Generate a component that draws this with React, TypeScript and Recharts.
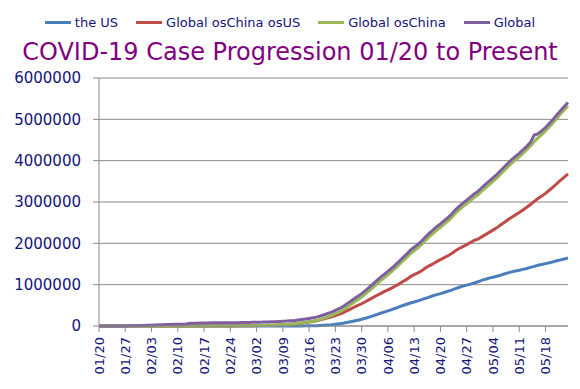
import React from 'react';
import { LineChart, Line, XAxis, YAxis, CartesianGrid, Legend } from 'recharts';

const dates = [
  '01/20', '01/21', '01/22', '01/23', '01/24', '01/25', '01/26', '01/27', '01/28', '01/29', '01/30', '01/31',
  '02/01', '02/02', '02/03', '02/04', '02/05', '02/06', '02/07', '02/08', '02/09', '02/10', '02/11', '02/12',
  '02/13', '02/14', '02/15', '02/16', '02/17', '02/18', '02/19', '02/20', '02/21', '02/22', '02/23', '02/24',
  '02/25', '02/26', '02/27', '02/28', '02/29',
  '03/01', '03/02', '03/03', '03/04', '03/05', '03/06', '03/07', '03/08', '03/09', '03/10', '03/11', '03/12',
  '03/13', '03/14', '03/15', '03/16', '03/17', '03/18', '03/19', '03/20', '03/21', '03/22', '03/23', '03/24',
  '03/25', '03/26', '03/27', '03/28', '03/29', '03/30', '03/31',
  '04/01', '04/02', '04/03', '04/04', '04/05', '04/06', '04/07', '04/08', '04/09', '04/10', '04/11', '04/12',
  '04/13', '04/14', '04/15', '04/16', '04/17', '04/18', '04/19', '04/20', '04/21', '04/22', '04/23', '04/24',
  '04/25', '04/26', '04/27', '04/28', '04/29', '04/30',
  '05/01', '05/02', '05/03', '05/04', '05/05', '05/06', '05/07', '05/08', '05/09', '05/10', '05/11', '05/12',
  '05/13', '05/14', '05/15', '05/16', '05/17', '05/18', '05/19', '05/20', '05/21', '05/22', '05/23', '05/24',
];

const usCases = [
  0, 1, 1, 1, 2, 2, 5, 5, 5, 5, 5, 7,
  8, 8, 11, 11, 12, 12, 12, 12, 12, 12, 13, 13, 15, 15, 15, 15, 15, 15, 15, 15,
  35, 35, 35, 53, 53, 59, 60, 62, 70, 76,
  101, 122, 153, 221, 278, 417, 537, 605, 959, 1281,
  1663, 2179, 2726, 3499, 4632, 6421, 7786, 13680, 19101, 25493,
  33276, 43847, 53740, 65778, 83836, 101657, 121465, 140909, 161831, 188172,
  213242, 243622, 275367, 308650, 336802, 366317, 397121, 428654, 462780, 496535,
  526396, 555313, 580619, 607670, 636350, 667592, 699706, 732197, 759086, 784326,
  811865, 840351, 869170, 905358, 938154, 965785, 988197, 1012582, 1039909, 1069424,
  1103461, 1132539, 1158040, 1180375, 1204351, 1229331, 1257023, 1283929, 1309550, 1329260,
  1347881, 1369376, 1390406, 1417774, 1442824, 1467820, 1486757, 1508308, 1528568, 1551853,
  1577147, 1600937, 1622612, 1643246,
];

const globalExChinaExUS = [
  4, 4, 6, 10, 19, 26, 38, 45, 64, 74, 88, 118,
  139, 149, 154, 174, 183, 195, 269, 294, 309, 396, 403, 449, 458, 512, 602, 696, 809, 910, 1005, 1105,
  1234, 1536, 1901, 2267, 2599, 3163, 4086, 5122, 6585, 8361,
  10069, 12457, 14581, 17128, 20833, 24660, 28461, 32125, 36774, 43673,
  45757, 62081, 72398, 82952, 95909, 109623, 125933, 147734, 171857, 197709,
  222242, 252890, 282714, 320214, 363973, 409737, 457242, 497086, 538336, 587036,
  637002, 687412, 738039, 784867, 830350, 872499, 916637, 968739, 1019615, 1078050,
  1126240, 1196274, 1241006, 1285215, 1336348, 1401442, 1456724, 1501774, 1558487, 1604116,
  1653405, 1699855, 1755831, 1821936, 1874683, 1921778, 1969649, 2019876, 2070033, 2103466,
  2156357, 2211086, 2264725, 2318714, 2374370, 2442042, 2504725, 2570145, 2630449, 2688428,
  2745605, 2808347, 2872583, 2940351, 3015479, 3082194, 3142800, 3209572, 3284861, 3360556,
  3441196, 3525796, 3603664, 3680265,
];

const globalExChina = [
  4, 5, 7, 11, 21, 28, 43, 50, 69, 79, 93, 125,
  147, 157, 165, 185, 195, 207, 281, 306, 321, 408, 416, 462, 473, 527, 617, 711, 824, 925, 1020, 1120,
  1269, 1571, 1936, 2320, 2652, 3222, 4146, 5184, 6655, 8437,
  10170, 12579, 14734, 17349, 21111, 25077, 28998, 32730, 37733, 44954,
  47420, 64260, 75124, 86451, 100541, 116044, 133719, 161414, 190958, 223202,
  255518, 296737, 336454, 385992, 447809, 511394, 578707, 637995, 700167, 775208,
  850244, 931034, 1013406, 1093517, 1167152, 1238816, 1313758, 1397393, 1482395, 1574585,
  1652636, 1751587, 1821625, 1892885, 1972698, 2069034, 2156430, 2233971, 2317573, 2388442,
  2465270, 2540206, 2625001, 2727294, 2812837, 2887563, 2957846, 3032458, 3109942, 3172890,
  3259818, 3343625, 3422765, 3499089, 3578721, 3671373, 3761748, 3854074, 3939999, 4017688,
  4093486, 4177723, 4262989, 4358125, 4458303, 4550014, 4629557, 4717880, 4813429, 4912409,
  5018343, 5126733, 5226276, 5323511,
];

const globalCases = [
  282, 314, 555, 654, 941, 1434, 2118, 2927, 5578, 6166, 8234, 9927,
  12038, 16787, 19881, 23892, 27635, 30794, 34391, 37120, 40150, 42762, 44802, 45221,
  60368, 66885, 69030, 71224, 73258, 75136, 75639, 76197,
  76819, 78572, 78958, 79561, 80406, 81388, 82746, 84112, 86011, 88369,
  90306, 92840, 95120, 97886, 101801, 105847, 109821, 113590, 118620, 125875,
  128352, 145205, 156101, 167454, 181574, 197102, 214821, 242570, 272208, 304507,
  336953, 378235, 418045, 467653, 529591, 593291, 660706, 720117, 782365, 857487,
  932605, 1013466, 1095917, 1176060, 1249754, 1321481, 1396476, 1480202, 1565278, 1657526,
  1735650, 1834721, 1904838, 1976191, 2056054, 2152437, 2240190, 2317758, 2401378, 2472259,
  2549123, 2624074, 2708885, 2811193, 2896746, 2971475, 3041764, 3116398, 3193886, 3256846,
  3343777, 3427584, 3506729, 3583055, 3662691, 3755341, 3845718, 3938064, 4024009, 4101699,
  4177504, 4261747, 4347018, 4442163, 4620000, 4650000, 4720000, 4801943, 4897492, 4996472,
  5102424, 5210817, 5310362, 5407613,
];

const yTicks = [0, 1000000, 2000000, 3000000, 4000000, 5000000, 6000000];

const seriesNames = ['the US', 'Global osChina osUS', 'Global osChina', 'Global'];

const rows = dates.map((date, i) => ({
  date,
  us: usCases[i],
  exChinaUS: globalExChinaExUS[i],
  exChina: globalExChina[i],
  global: globalCases[i],
}));

const FONT = '"DejaVu Sans", Verdana, sans-serif';
const NAVY = '#13137a';
const GRID = '#8a8a8a';

function DateTick(props: any) {
  const { x, y, payload } = props;
  return (
    <g transform={`translate(${x},${y})`}>
      <text
        transform="rotate(-90)"
        textAnchor="end"
        dy="0.36em"
        fill={NAVY}
        fontSize={13}
        fontFamily={FONT}
      >
        {payload.value}
      </text>
    </g>
  );
}

function LegendBox(props: any) {
  const items = [...(props.payload || [])].sort(
    (a: any, b: any) => seriesNames.indexOf(a.value) - seriesNames.indexOf(b.value)
  );
  return (
    <div
      style={{
        display: 'flex',
        justifyContent: 'center',
        alignItems: 'center',
        fontFamily: FONT,
        fontSize: 13,
        color: NAVY,
      }}
    >
      {items.map((item: any, i: number) => (
        <div
          key={i}
          style={{ display: 'flex', alignItems: 'center', marginLeft: i === 0 ? 0 : 18 }}
        >
          <span
            style={{ display: 'inline-block', width: 26, height: 3, background: item.color, marginRight: 4 }}
          />
          <span>{item.value}</span>
        </div>
      ))}
    </div>
  );
}

export default function App() {
  return (
    <div
      style={{
        position: 'absolute',
        left: 0,
        top: 0,
        width: 580,
        height: 389,
        background: '#fff',
        fontFamily: FONT,
      }}
    >
      <div
        style={{
          position: 'absolute',
          top: 36,
          left: 0,
          width: 580,
          textAlign: 'center',
          fontSize: 24,
          lineHeight: '32px',
          color: '#800080',
          fontFamily: FONT,
          whiteSpace: 'nowrap',
        }}
      >
        COVID-19 Case Progression 01/20 to Present
      </div>
      <LineChart
        width={580}
        height={389}
        data={rows}
        margin={{ top: 78, right: 12, left: 0, bottom: 0 }}
      >
        <CartesianGrid vertical={false} stroke={GRID} strokeWidth={1} />
        <XAxis
          dataKey="date"
          interval={6}
          height={63}
          tickSize={6}
          tickMargin={5}
          stroke={GRID}
          tick={<DateTick />}
        />
        <YAxis
          width={99}
          domain={[0, 6000000]}
          ticks={yTicks}
          tickSize={6}
          tickMargin={12}
          stroke={GRID}
          tickFormatter={(v: number) => String(v)}
          tick={{ fill: NAVY, fontSize: 15, fontFamily: FONT }}
        />
        <Legend
          verticalAlign="middle"
          align="center"
          layout="horizontal"
          wrapperStyle={{ top: 15, left: 0, width: 580 }}
          content={<LegendBox />}
        />
        <Line type="linear" dataKey="us" name={seriesNames[0]} stroke="#4a7ebb" strokeWidth={3} dot={false} isAnimationActive={false} />
        <Line type="linear" dataKey="exChinaUS" name={seriesNames[1]} stroke="#be4b48" strokeWidth={3} dot={false} isAnimationActive={false} />
        <Line type="linear" dataKey="exChina" name={seriesNames[2]} stroke="#98b954" strokeWidth={3} dot={false} isAnimationActive={false} />
        <Line type="linear" dataKey="global" name={seriesNames[3]} stroke="#7d5fa0" strokeWidth={3} dot={false} isAnimationActive={false} />
      </LineChart>
    </div>
  );
}
